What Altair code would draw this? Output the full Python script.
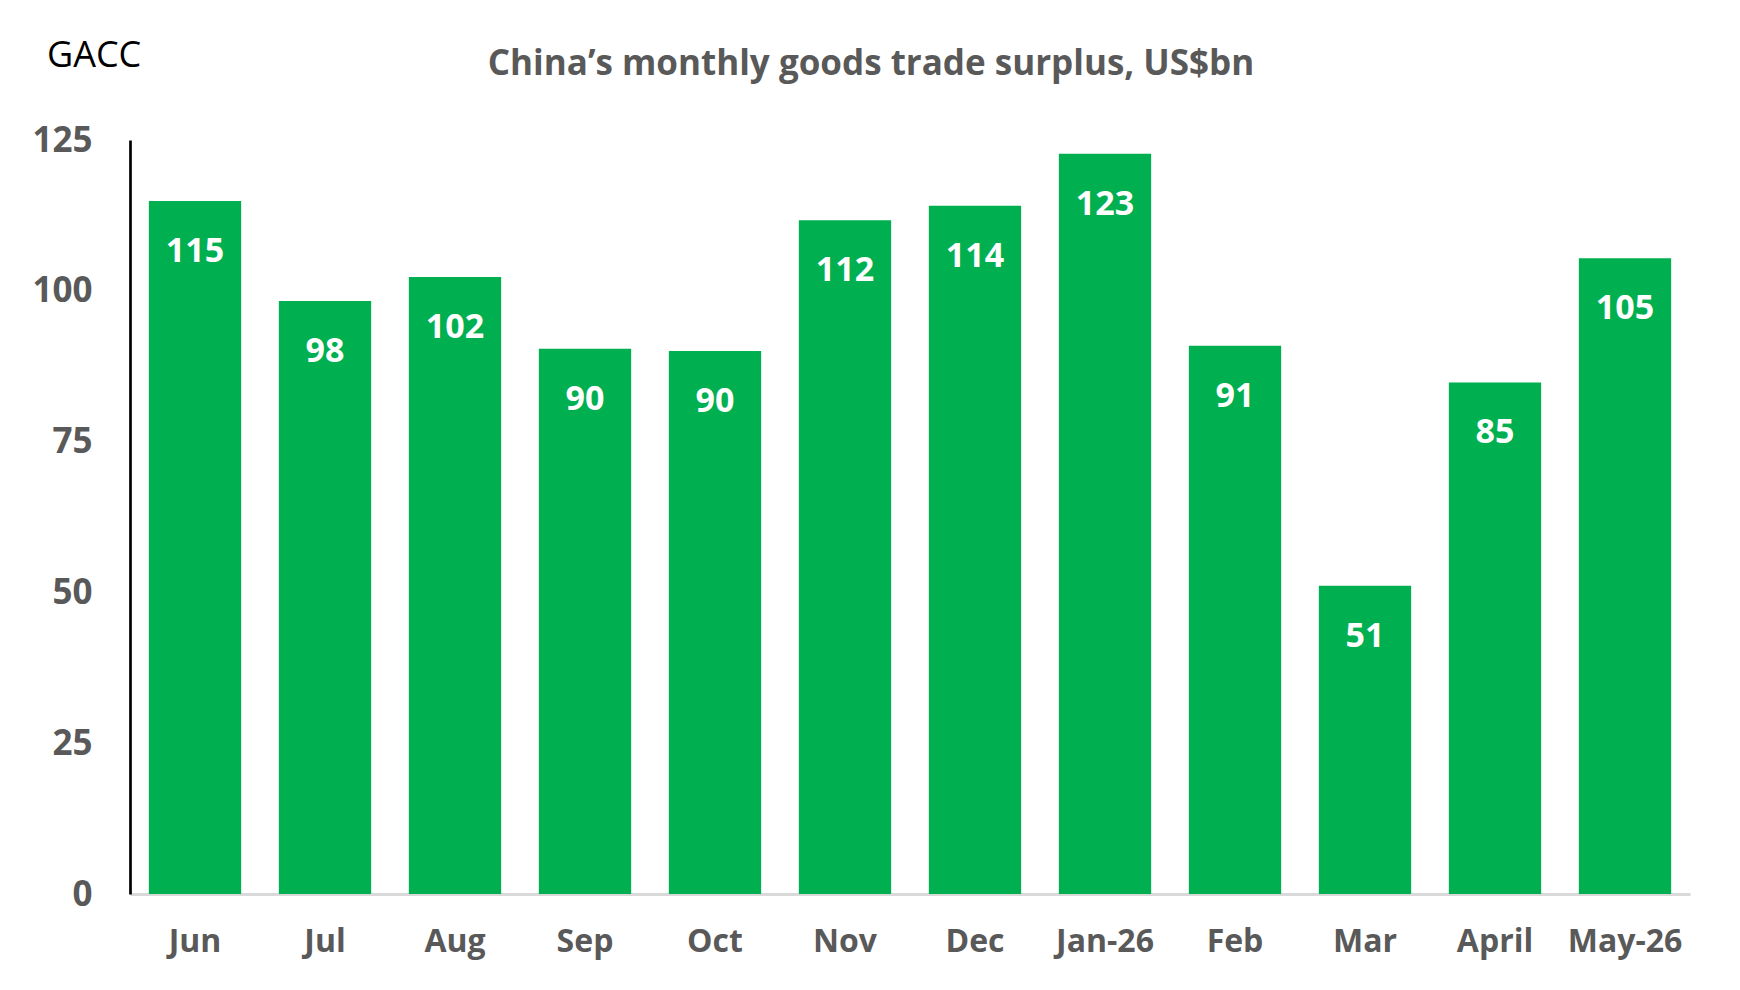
import altair as alt
import pandas as pd

months = ["Jun", "Jul", "Aug", "Sep", "Oct", "Nov", "Dec", "Jan-26", "Feb", "Mar", "April", "May-26"]
surplus = [114.9, 98.3, 102.3, 90.4, 90.0, 111.7, 114.1, 122.7, 90.9, 51.1, 84.8, 105.4]
y_ticks = [0, 25, 50, 75, 100, 125]

title_text = "China\u2019s monthly goods trade surplus, US$bn"
source_text = "GACC"

df = pd.DataFrame({"month": months, "value": surplus})

FONT = "Open Sans"
GREEN = "#00B050"
GRAY = "#595959"

W, H = 1560, 754

x_enc = alt.X(
    "month:N",
    sort=months,
    scale=alt.Scale(paddingInner=0.29, paddingOuter=0.145),
    axis=alt.Axis(
        title=None,
        labelAngle=0,
        labelFont=FONT,
        labelFontSize=32,
        labelFontWeight="bold",
        labelColor=GRAY,
        labelBaseline="alphabetic",
        labelPadding=57,
        ticks=False,
        domainColor="#D9D9D9",
        domainWidth=3,
        grid=False,
    ),
)
y_enc = alt.Y(
    "value:Q",
    scale=alt.Scale(domain=[0, 125], nice=False),
    axis=alt.Axis(
        title=None,
        values=y_ticks,
        labelFont=FONT,
        labelFontSize=35,
        labelFontWeight="bold",
        labelColor=GRAY,
        labelPadding=38,
        ticks=False,
        domainColor="#000000",
        domainWidth=2.7,
        grid=False,
    ),
)

bars = alt.Chart(df).mark_bar(color=GREEN).encode(x=x_enc, y=y_enc)

labels = alt.Chart(df).mark_text(
    font=FONT, fontSize=34, fontWeight="bold", color="white", baseline="middle", dy=51
).encode(
    x=alt.X("month:N", sort=months),
    y=alt.Y("value:Q"),
    text=alt.Text("value:Q", format=".0f"),
)

title_df = pd.DataFrame({"t": [title_text]})
title_mark = alt.Chart(title_df).mark_text(
    font=FONT, fontSize=35, fontWeight="bold", color=GRAY, align="center", baseline="middle"
).encode(x=alt.value(741), y=alt.value(-76), text="t:N")

src_df = pd.DataFrame({"t": [source_text]})
src_mark = alt.Chart(src_df).mark_text(
    font=FONT, fontSize=36, color="#000000", align="left", baseline="middle"
).encode(x=alt.value(-83), y=alt.value(-84), text="t:N")

chart = (
    alt.layer(bars, labels, title_mark, src_mark)
    .properties(
        width=W,
        height=H,
        autosize=alt.AutoSizeParams(type="none"),
        padding={"left": 122, "top": 132, "right": 40, "bottom": 80},
        background="white",
    )
    .configure_view(stroke=None)
)

chart.save("out.html", embed_options={"renderer": "svg", "actions": False})
